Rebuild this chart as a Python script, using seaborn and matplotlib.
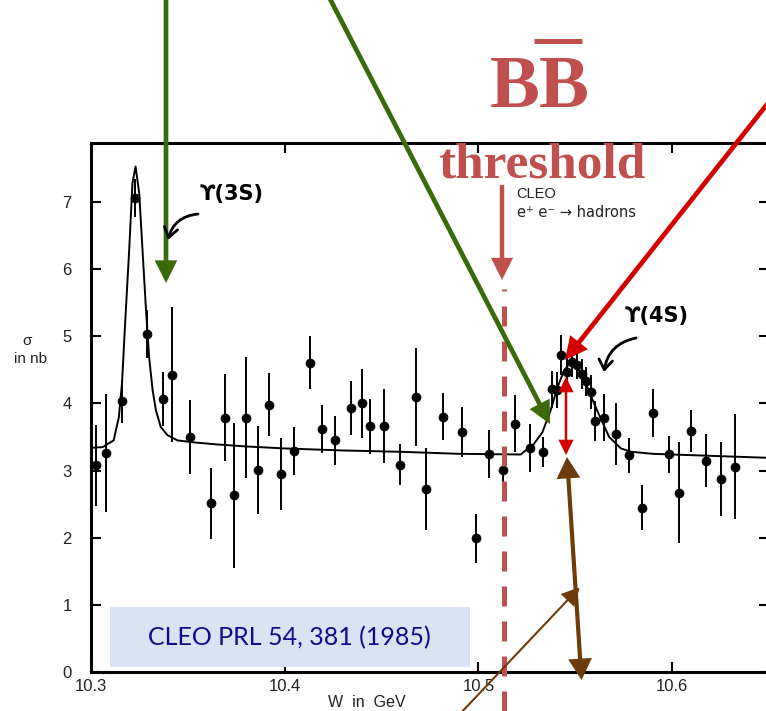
import matplotlib
matplotlib.use("Agg")
import matplotlib.pyplot as plt
import seaborn as sns
import pandas as pd
from matplotlib.patches import FancyArrowPatch, Rectangle

# ---------------- data ----------------
W_data = [10.3024, 10.308, 10.316, 10.3228, 10.329, 10.3373, 10.342, 10.351,
          10.3617, 10.369, 10.374, 10.380, 10.386, 10.392, 10.398, 10.405,
          10.413, 10.419, 10.426, 10.434, 10.440, 10.444, 10.451, 10.4596,
          10.4676, 10.473, 10.4815, 10.4917, 10.4988, 10.5057, 10.5128, 10.519,
          10.5266, 10.5335, 10.5378, 10.5408, 10.5426, 10.5457, 10.5483, 10.551,
          10.5533, 10.5554, 10.558, 10.560, 10.5646, 10.571, 10.5778, 10.5844,
          10.5903, 10.5986, 10.6033, 10.6098, 10.6176, 10.6254, 10.6323]
sigma_data = [3.08, 3.26, 4.03, 7.06, 5.03, 4.07, 4.43, 3.50,
              2.51, 3.79, 2.63, 3.79, 3.01, 3.98, 2.95, 3.29,
              4.61, 3.62, 3.45, 3.93, 4.00, 3.66, 3.66, 3.09,
              4.10, 2.73, 3.80, 3.58, 1.99, 3.25, 3.01, 3.70,
              3.34, 3.28, 4.21, 4.20, 4.72, 4.47, 4.62, 4.58,
              4.44, 4.33, 4.17, 3.74, 3.79, 3.54, 3.23, 2.45,
              3.86, 3.24, 2.67, 3.59, 3.15, 2.88, 3.06]
sigma_err = [0.60, 0.88, 0.32, 0.28, 0.36, 0.40, 1.00, 0.55,
             0.53, 0.65, 1.08, 0.90, 0.65, 0.47, 0.54, 0.36,
             0.40, 0.36, 0.37, 0.40, 0.52, 0.41, 0.55, 0.31,
             0.73, 0.61, 0.35, 0.37, 0.36, 0.36, 0.25, 0.42,
             0.36, 0.22, 0.27, 0.27, 0.30, 0.22, 0.22, 0.22,
             0.22, 0.22, 0.25, 0.30, 0.35, 0.46, 0.26, 0.34,
             0.36, 0.27, 0.75, 0.32, 0.39, 0.55, 0.78]

fit_W = [10.300, 10.306, 10.3117, 10.3144, 10.316, 10.3178, 10.3197, 10.3214,
         10.323, 10.3249, 10.3266, 10.3283, 10.330, 10.3318, 10.3335, 10.336,
         10.3394, 10.3446, 10.3532, 10.365, 10.380, 10.400, 10.430, 10.460,
         10.490, 10.5218, 10.5287, 10.533, 10.5373, 10.5408, 10.5442, 10.5477,
         10.5511, 10.5554, 10.5597, 10.564, 10.5675, 10.5736, 10.5788, 10.590,
         10.620, 10.650]
fit_sigma = [3.34, 3.35, 3.45, 3.80, 4.30, 5.29, 6.28, 7.28,
             7.53, 7.13, 6.28, 5.44, 4.69, 4.20, 3.90, 3.65,
             3.53, 3.45, 3.42, 3.39, 3.36, 3.33, 3.30, 3.28,
             3.25, 3.24, 3.40, 3.57, 3.90, 4.24, 4.49, 4.62,
             4.54, 4.30, 4.00, 3.72, 3.50, 3.33, 3.28, 3.25,
             3.22, 3.19]

x_ticks = [10.3, 10.4, 10.5, 10.6]
x_tick_labels = ["10.3", "10.4", "10.5", "10.6"]
y_ticks = [0, 1, 2, 3, 4, 5, 6, 7]
y_tick_labels = ["0", "1", "2", "3", "4", "5", "6", "7"]
threshold_W = 10.513

# ---------------- styling ----------------
sns.set_theme(style="ticks")
plt.rcParams["font.family"] = ["Liberation Sans", "DejaVu Sans"]

GREEN = "#3a6a0a"
RED = "#d40000"
THR = "#c0504d"
BROWN = "#6e3b0b"

W_PX, H_PX = 766, 711
fig = plt.figure(figsize=(W_PX / 100, H_PX / 100), dpi=100)
fig.patch.set_facecolor("white")

ax = fig.add_axes([91 / W_PX, (H_PX - 672) / H_PX, (769 - 91) / W_PX, (672 - 143) / H_PX])
ax.set_facecolor("white")

df_pts = pd.DataFrame({"W": W_data, "sigma": sigma_data, "err": sigma_err})
df_fit = pd.DataFrame({"W": fit_W, "sigma": fit_sigma})

ax.errorbar(df_pts["W"], df_pts["sigma"], yerr=df_pts["err"], fmt="none",
            ecolor="black", elinewidth=1.4, capsize=0, zorder=2)
sns.lineplot(data=df_fit, x="W", y="sigma", ax=ax, color="black", lw=1.4,
             sort=False, estimator=None, zorder=2)
sns.scatterplot(data=df_pts, x="W", y="sigma", ax=ax, color="black", s=42,
                edgecolor="black", linewidth=0.5, zorder=3)

ax.set_xlim(10.3, 10.65)
ax.set_ylim(0, 7.88)
ax.set_xticks(x_ticks)
ax.set_xticklabels(x_tick_labels)
ax.set_yticks(y_ticks)
ax.set_yticklabels(y_tick_labels)
ax.set_xlabel("")
ax.set_ylabel("")
for s in ax.spines.values():
    s.set_linewidth(2.2)
    s.set_color("black")
ax.tick_params(axis="both", direction="in", length=7, width=1.5, color="black",
               top=True, right=True, labelsize=12, labelcolor="#222222")
ax.tick_params(axis="y", pad=14)
ax.tick_params(axis="x", pad=5)

# threshold dashed line (extends below the axes)
ax.axvline(threshold_W, ymin=(672 - 711) / 529, ymax=(672 - 289) / 529,
           color=THR, lw=3.6, linestyle=(0, (4, 3)), clip_on=False, zorder=4)

# ---------------- overlay for annotations (image pixel coords) ----------------
ov = fig.add_axes([0, 0, 1, 1], zorder=10)
ov.set_xlim(0, W_PX)
ov.set_ylim(H_PX, 0)
ov.axis("off")


def arrow(p0, p1, color, lw, style, ms, z=11):
    a = FancyArrowPatch(p0, p1, arrowstyle=style, color=color, lw=lw,
                        mutation_scale=ms, shrinkA=0, shrinkB=0, zorder=z,
                        clip_on=False, joinstyle="miter", capstyle="butt")
    ov.add_patch(a)


arrow((166, -5), (166, 283), GREEN, 3.4, "-|>,head_length=0.9,head_width=0.45", 12)
arrow((328, -5), (550, 424), GREEN, 3.4, "-|>,head_length=0.9,head_width=0.45", 12)
arrow((772, 98), (565, 360), RED, 3.4, "-|>,head_length=0.9,head_width=0.45", 12)
arrow((566, 377), (566, 455), RED, 1.8, "<|-|>,head_length=0.9,head_width=0.45", 9)
arrow((567, 457), (581.5, 680), BROWN, 3.0, "<|-|>,head_length=0.9,head_width=0.5", 12)
arrow((458, 716), (580, 587), BROWN, 1.5, "-|>,head_length=0.9,head_width=0.45", 12)
arrow((502, 185), (502, 280), THR, 3.2, "-|>,head_length=0.9,head_width=0.45", 12)

# curved hand-drawn arrows
for p0, p1 in [((198, 214), (168, 240)), ((636, 338), (604, 372))]:
    ov.add_patch(FancyArrowPatch(p0, p1, arrowstyle="->,head_length=0.5,head_width=0.35",
                                 connectionstyle="arc3,rad=0.35", color="black", lw=2.0,
                                 mutation_scale=14, shrinkA=0, shrinkB=0, zorder=11))

ov.text(232, 194, "ϒ(3S)", fontsize=15, fontweight="bold", ha="center", va="center",
        color="black", family=["DejaVu Sans"])
ov.text(657, 316, "ϒ(4S)", fontsize=15, fontweight="bold", ha="center", va="center",
        color="black", family=["DejaVu Sans"])

# B Bbar threshold label
ov.text(540, 107, "BB", fontsize=54, fontweight="bold", ha="center", va="baseline",
        color=THR, family=["Liberation Serif"])
ov.plot([534, 582], [40.5, 40.5], color=THR, lw=3.6, solid_capstyle="butt")
ov.text(542, 177, "threshold", fontsize=37, fontweight="bold", ha="center",
        va="baseline", color=THR, family=["Liberation Serif"])

# original figure texts
ov.text(516, 198, "CLEO", fontsize=10.5, ha="left", va="baseline", color="#222222")
ov.text(517, 217, "e\u207a e\u207b \u2192 hadrons", fontsize=10.5, ha="left",
        va="baseline", color="#222222", family=["DejaVu Sans"])
ov.text(27, 345, "σ", fontsize=11, ha="center", va="baseline", color="#222222")
ov.text(30, 363, "in nb", fontsize=11, ha="center", va="baseline", color="#222222")
ov.text(367, 707, "W  in  GeV", fontsize=11.5, ha="center", va="baseline",
        color="#222222")

# reference box
ov.add_patch(Rectangle((110, 607), 360, 60, facecolor="#dae3f3", edgecolor="none",
                       zorder=9))
ov.text(289, 638, "CLEO PRL 54, 381 (1985)", fontsize=18, ha="center", va="center",
        color="#0c0c8c", family=["Lato", "DejaVu Sans"], zorder=12)

fig.savefig("out.png", dpi=100)
